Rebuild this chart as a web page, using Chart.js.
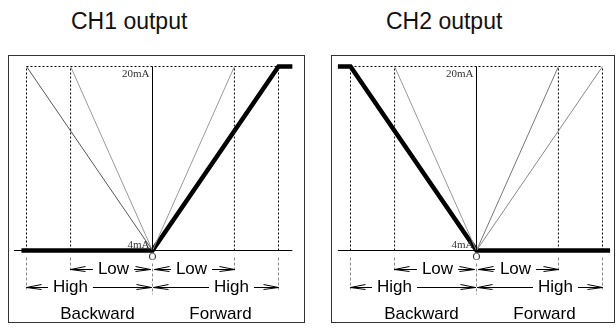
<!DOCTYPE html>
<html>
<head>
<meta charset="utf-8">
<script src="https://cdn.jsdelivr.net/npm/chart.js@4.4.1/dist/chart.umd.min.js"></script>
<style>
  body { margin: 0; background: #fff; width: 616px; height: 332px; position: relative; overflow: hidden;
         font-family: "Liberation Sans", Arial, sans-serif; }
  canvas { position: absolute; top: 0; }
  .title { position: absolute; top: 8px; font-size: 23px; color: #111; white-space: nowrap; }
</style>
</head>
<body>
<div class="title" style="left:71px">CH1 output</div>
<div class="title" style="left:386px">CH2 output</div>
<canvas id="ch1" width="308" height="332" style="left:0"></canvas>
<canvas id="ch2" width="308" height="332" style="left:308px"></canvas>
<script>
// stick travel in % (negative = backward), output in mA
const HIGH = 100;
const LOW = 65;
const travelMarks = [-HIGH, -LOW, LOW, HIGH];
const currentRange = [4, 20];

const ch1Travel = [-104, 0, 100, 111];
const ch1Current = [4, 4, 20, 20];
const ch1Refs = [-HIGH, -LOW, LOW];
const ch1RefColors = ['#555', '#999', '#999'];
const ch1Axis = [-110, 111];

const ch2Travel = [-110, -100, 0, 106];
const ch2Current = [20, 20, 4, 4];
const ch2Refs = [-LOW, LOW, HIGH];
const ch2RefColors = ['#999', '#777', '#888'];
const ch2Axis = [-110, 106];

function line(points, color, width, dash) {
  return {
    data: points, showLine: true, pointRadius: 0, borderColor: color,
    borderWidth: width, borderDash: dash || [], fill: false, tension: 0
  };
}

function buildDatasets(travel, current, refs, refColors, axis) {
  const lo = currentRange[0], hi = currentRange[1];
  const sets = [];
  // dotted frame of the working range
  sets.push(line([{ x: -HIGH, y: hi }, { x: HIGH, y: hi }], '#000', 1, [2, 2]));
  travelMarks.forEach(t => sets.push(line([{ x: t, y: lo }, { x: t, y: hi }], '#000', 1, [2, 2])));
  // zero axis and centre line
  sets.push(line([{ x: axis[0], y: lo }, { x: axis[1], y: lo }], '#000', 1));
  sets.push(line([{ x: 0, y: lo }, { x: 0, y: hi }], '#000', 1));
  // alternative slopes
  refs.forEach((t, i) => sets.push(line([{ x: 0, y: lo }, { x: t, y: hi }], refColors[i], 1)));
  // actual output curve
  sets.push(line(travel.map((t, i) => ({ x: t, y: current[i] })), '#000', 4.5));
  return sets;
}

function arrowHead(ctx, x, y, dir) {
  const back = x - dir * 15;
  ctx.beginPath();
  ctx.moveTo(back, y - 3); ctx.lineTo(x, y);
  ctx.lineTo(back, y + 2);
  ctx.moveTo(x, y); ctx.lineTo(back, y);
  ctx.stroke();
}

function dimension(ctx, xa, xb, y, label, lx) {
  const w = ctx.measureText(label).width;
  ctx.beginPath();
  ctx.moveTo(xa, y); ctx.lineTo(Math.max(xa + 15, lx - w / 2 - 5), y);
  ctx.moveTo(Math.min(xb - 15, lx + w / 2 + 5), y); ctx.lineTo(xb, y);
  ctx.stroke();
  arrowHead(ctx, xa, y, -1);
  arrowHead(ctx, xb, y, 1);
  ctx.fillText(label, lx, y);
}

const annotations = {
  id: 'annotations',
  beforeDraw(chart) {
    const { ctx, chartArea: a } = chart;
    ctx.save();
    ctx.strokeStyle = '#333';
    ctx.lineWidth = 1;
    ctx.strokeRect(a.left + 0.5, a.top + 0.5, a.right - a.left - 1, a.bottom - a.top - 1);
    ctx.restore();
  },
  afterDatasetsDraw(chart) {
    const { ctx } = chart;
    const xs = chart.scales.x, ys = chart.scales.y;
    const x0 = xs.getPixelForValue(0);
    const yb = ys.getPixelForValue(currentRange[0]);
    const yt = ys.getPixelForValue(currentRange[1]);
    const px = v => Math.round(xs.getPixelForValue(v) - 0.5) + 0.5;
    ctx.save();

    // current labels
    ctx.font = '11px "Liberation Serif", serif';
    ctx.fillStyle = '#333';
    ctx.textAlign = 'right';
    ctx.textBaseline = 'middle';
    ctx.fillText(currentRange[1] + 'mA', x0 - 3, yt + 8);
    ctx.fillText(currentRange[0] + 'mA', x0 - 3, yb - 5);
    ctx.textAlign = 'center';
    ctx.fillText('O', x0, yb + 7);

    // extension lines
    ctx.strokeStyle = '#888';
    ctx.lineWidth = 1;
    ctx.setLineDash([3, 2]);
    ctx.beginPath();
    [-LOW, LOW].forEach(t => { ctx.moveTo(px(t), yb + 7); ctx.lineTo(px(t), yb + 21); });
    [-HIGH, HIGH].forEach(t => { ctx.moveTo(px(t), yb + 7); ctx.lineTo(px(t), yb + 39); });
    ctx.moveTo(x0, yb + 13); ctx.lineTo(x0, yb + 44);
    ctx.stroke();
    ctx.setLineDash([]);

    // Low / High ranges
    ctx.strokeStyle = '#000';
    ctx.fillStyle = '#000';
    ctx.font = '17px "Liberation Sans", Arial, sans-serif';
    const rowLow = yb + 19, rowHigh = yb + 37;
    dimension(ctx, px(-LOW), x0 - 2, rowLow, 'Low', (px(-LOW) + x0) / 2 + 2);
    dimension(ctx, x0 + 2, px(LOW), rowLow, 'Low', (px(LOW) + x0) / 2 - 2);
    dimension(ctx, px(-HIGH), x0 - 1, rowHigh, 'High', px(-LOW));
    dimension(ctx, x0 + 1, px(HIGH), rowHigh, 'High', px(LOW) - 3);

    ctx.fillText('Backward', x0 - 55, yb + 64);
    ctx.fillText('Forward', x0 + 68, yb + 64);
    ctx.restore();
  }
};

function makeChart(id, travel, current, refs, refColors, axis, xMin, xMax, pad) {
  new Chart(document.getElementById(id), {
    type: 'scatter',
    data: { datasets: buildDatasets(travel, current, refs, refColors, axis) },
    options: {
      responsive: false,
      animation: false,
      layout: { padding: pad },
      plugins: { legend: { display: false }, tooltip: { enabled: false } },
      scales: {
        x: { type: 'linear', display: false, min: xMin, max: xMax },
        y: { type: 'linear', display: false, min: -2.3043, max: 21 }
      }
    },
    plugins: [annotations]
  });
}

// 1.26 px per % of travel, centre lines on pixel centres
makeChart('ch1', ch1Travel, ch1Current, ch1Refs, ch1RefColors, ch1Axis, -114.683, 121.032,
  { left: 8, right: 3, top: 55, bottom: 9 });
makeChart('ch2', ch2Travel, ch2Current, ch2Refs, ch2RefColors, ch2Axis, -115.476, 109.921,
  { left: 23, right: 1, top: 55, bottom: 9 });
</script>
</body>
</html>
